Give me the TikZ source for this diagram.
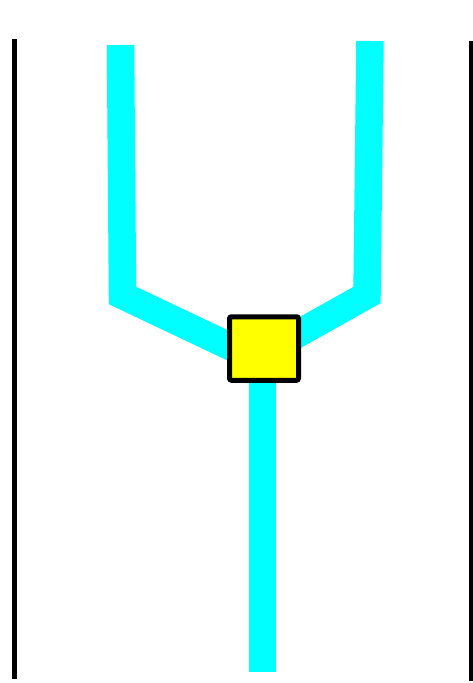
\documentclass[tikz,border=0pt]{standalone}
\usetikzlibrary{backgrounds}
\definecolor{aqua}{RGB}{0,255,255}
\definecolor{gateyellow}{RGB}{255,255,0}
\begin{document}
\begin{tikzpicture}[x=1pt,y=-1pt,
  wire/.style={draw=aqua, line width=27.5pt, line join=miter},
  rail/.style={draw=black, line width=5pt},
  gate/.style={draw=black, fill=gateyellow, line width=5pt, rounded corners=2pt,
    minimum width=69pt, minimum height=63.5pt, inner sep=0pt}]
\useasboundingbox (0,0) rectangle (472,683);
% rails
\coordinate (lt) at (14.8,39);
\coordinate (lb) at (14.8,679);
\coordinate (rt) at (471.5,41);
\coordinate (rb) at (471.5,681);
\draw[rail] (lt) -- (lb);
\draw[rail] (rt) -- (rb);
% gate
\node[gate] (g) at (264,348.5) {};
% wire points
\coordinate (a1) at (120.5,45);
\coordinate (a2) at (122.5,295.5);
\coordinate (a3) at (264,362.6);
\coordinate (b1) at (370,41);
\coordinate (b2) at (367,295);
\coordinate (b3) at (264,352.7);
\coordinate (c1) at (262.7,671.7);
\begin{pgfonlayer}{background}
\draw[wire] (a1) -- (a2) -- (a3);
\draw[wire] (b1) -- (b2) -- (b3);
\draw[wire, line width=26.5pt] (g.center -| c1) -- (c1);
\end{pgfonlayer}
\end{tikzpicture}
\end{document}
